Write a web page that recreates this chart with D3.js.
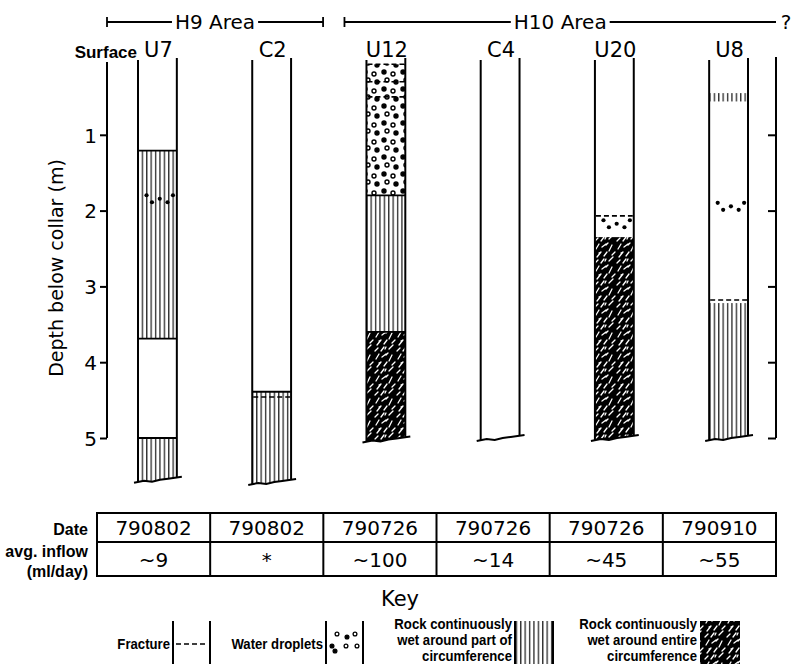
<!DOCTYPE html>
<html>
<head>
<meta charset="utf-8">
<script src="https://cdn.jsdelivr.net/npm/d3@7"></script>
<style>
  html, body { margin: 0; padding: 0; background: #fff; }
  svg { display: block; }
</style>
</head>
<body>
<svg id="chart" width="793" height="664"></svg>
<script>
// ---- data -------------------------------------------------------------
const wells = ["U7", "C2", "U12", "C4", "U20", "U8"];
const wellBase = [5.55, 5.58, 5.02, 5.0, 5.0, 5.0];          // depth where each log is broken off (m)
const sampleDates = ["790802", "790802", "790726", "790726", "790726", "790910"];
const avgInflow = ["~9", "*", "~100", "~14", "~45", "~55"];
const depthTicks = [1, 2, 3, 4, 5];
const areaNames = ["H9 Area", "H10 Area"];

// [well, top depth, bottom depth] ; null bottom = down to base of log
const wetPartZones = [["U7", 1.21, 3.69], ["U7", 5.0, null], ["C2", 4.39, null],
                      ["U12", 1.8, 3.6], ["U8", 0.45, 0.56], ["U8", 3.22, null]];
const wetEntireZones = [["U12", 3.6, null], ["U20", 2.35, null]];
const dropletZones = [["U12", 0.07, 1.8]];
const contacts = [["U7", 1.21], ["U7", 3.69], ["U7", 5.0], ["C2", 4.39], ["U12", 1.8], ["U12", 3.6]];
const fractures = [["U12", 0.07], ["U12", 0.3], ["U12", 0.5], ["C2", 4.46], ["U20", 2.07], ["U8", 3.18]];
const dropletRows = [["U7", 1.85], ["U20", 2.18], ["U8", 1.95]];

const keyLabels = [["Fracture"], ["Water droplets"],
                   ["Rock continuously", "wet around part of", "circumference"],
                   ["Rock continuously", "wet around entire", "circumference"]];

// ---- scales -------------------------------------------------------------
const svg = d3.select("#chart");
const x = d3.scaleBand().domain(wells).range([138, 748]).paddingInner(0.66).paddingOuter(0);
const y = d3.scaleLinear().domain([0, 5]).range([59, 438]);
const tx = d3.scaleBand().domain(wells).range([97, 776]);
const bw = x.bandwidth();
const baseOf = w => wellBase[wells.indexOf(w)];

const mainFont = "DejaVu Sans, sans-serif";
const boldFont = "Liberation Sans, Arial, sans-serif";

// ---- fill patterns ------------------------------------------------------
const defs = svg.append("defs");

const hatch = defs.append("pattern").attr("id", "hatch")
  .attr("patternUnits", "userSpaceOnUse").attr("width", 4.4).attr("height", 20);
hatch.append("rect").attr("width", 4.4).attr("height", 20).attr("fill", "#fff");
hatch.append("line").attr("x1", 1.6).attr("x2", 1.6).attr("y1", 0).attr("y2", 20)
  .attr("stroke", "#000").attr("stroke-width", 1.1);

const dark = defs.append("pattern").attr("id", "dark")
  .attr("patternUnits", "userSpaceOnUse").attr("width", 22).attr("height", 22);
dark.append("rect").attr("width", 22).attr("height", 22).attr("fill", "#000");
dark.append("path")
  .attr("d", "M2 7l3-5 M8 5l4-3 M15 9l3-6 M3 15l4-5 M10 14l3-4 M15 19l4-4 M1 21l3-3 M7 21l3-4 M12 3l2-2 M18 13l3-3 M5 11l2-1 M11 19l1-2")
  .attr("stroke", "#fff").attr("stroke-width", 1.3).attr("stroke-linecap", "round").attr("fill", "none");

const drops = defs.append("pattern").attr("id", "drops")
  .attr("patternUnits", "userSpaceOnUse").attr("width", 19).attr("height", 17);
drops.append("rect").attr("width", 19).attr("height", 17).attr("fill", "#fff");
[[4, 4, 1], [13, 6, 0], [7, 12, 0], [16, 14, 1]].forEach(([cx, cy, f]) => {
  drops.append("circle").attr("cx", cx).attr("cy", cy).attr("r", 2)
    .attr("fill", f ? "#000" : "#fff").attr("stroke", "#000").attr("stroke-width", 1.4);
});

// ---- broken-off base of each log ----------------------------------------
const jag = [[-4, 3], [6, 1], [14, 2], [22, 0], [30, -1], [bw + 5, -3]];
function basePoints(w) {
  const yb = y(baseOf(w)), x0 = x(w);
  return jag.map(([dx, dy]) => [x0 + dx, yb + dy]);
}

// clip region per log
wells.forEach((w, i) => {
  const x0 = x(w), x1 = x0 + bw, yb = y(baseOf(w));
  const pts = [[x0, y(0)], [x1, y(0)], [x1, yb - 2.5]]
    .concat(basePoints(w).slice(1, -1).reverse()).concat([[x0, yb + 2]]);
  defs.append("clipPath").attr("id", "clip" + i)
    .append("polygon").attr("points", pts.map(p => p.join(",")).join(" "));
});
const clipOf = w => "url(#clip" + wells.indexOf(w) + ")";

const logs = svg.append("g");
function zoneRects(list, fill) {
  list.forEach(([w, t, b]) => {
    const bot = b === null ? baseOf(w) + 0.1 : b;
    logs.append("rect").attr("x", x(w)).attr("width", bw)
      .attr("y", y(t)).attr("height", y(bot) - y(t))
      .attr("fill", fill).attr("clip-path", clipOf(w));
  });
}
zoneRects(dropletZones, "url(#drops)");
zoneRects(wetPartZones, "url(#hatch)");
zoneRects(wetEntireZones, "url(#dark)");

// solid contacts
logs.selectAll(".contact").data(contacts).join("line")
  .attr("x1", d => x(d[0])).attr("x2", d => x(d[0]) + bw)
  .attr("y1", d => y(d[1])).attr("y2", d => y(d[1]))
  .attr("stroke", "#000").attr("stroke-width", 1.8);

// fractures
logs.selectAll(".fracture").data(fractures).join("line")
  .attr("x1", d => x(d[0]) + 1).attr("x2", d => x(d[0]) + bw - 1)
  .attr("y1", d => y(d[1])).attr("y2", d => y(d[1]))
  .attr("stroke", "#000").attr("stroke-width", 1.6).attr("stroke-dasharray", "5,3");

// water droplet clusters
const dropShape = [[0.22, -4], [0.36, 3], [0.56, -0.5], [0.76, 3], [0.9, -4]];
dropletRows.forEach(([w, d]) => {
  dropShape.forEach(([fx, dy]) => {
    logs.append("circle").attr("cx", x(w) + fx * bw).attr("cy", y(d) + dy)
      .attr("r", 2.1).attr("fill", "#000");
  });
});

// log walls and broken base
wells.forEach(w => {
  const x0 = x(w), x1 = x0 + bw, yb = y(baseOf(w));
  logs.append("line").attr("x1", x0).attr("x2", x0).attr("y1", y(0) + 1).attr("y2", yb + 2)
    .attr("stroke", "#000").attr("stroke-width", 2);
  logs.append("line").attr("x1", x1).attr("x2", x1).attr("y1", y(0) - 1).attr("y2", yb - 2.5)
    .attr("stroke", "#000").attr("stroke-width", 2);
  logs.append("path").attr("d", d3.line()(basePoints(w)))
    .attr("fill", "none").attr("stroke", "#000").attr("stroke-width", 2);
});

// column headings
svg.append("g").selectAll("text").data(wells).join("text")
  .attr("x", d => x(d) + bw / 2 + 1).attr("y", 57)
  .attr("text-anchor", "middle").attr("font-family", mainFont).attr("font-size", 21)
  .text(d => d);
svg.append("text").attr("x", 137).attr("y", 58).attr("text-anchor", "end")
  .attr("font-family", boldFont).attr("font-weight", "bold").attr("font-size", 17)
  .text("Surface");

// ---- depth axes ---------------------------------------------------------
const axL = svg.append("g").attr("transform", "translate(107,0)")
  .call(d3.axisLeft(y).tickValues(depthTicks).tickFormat(d3.format("d")).tickSize(7).tickSizeOuter(0).tickPadding(3));
axL.select(".domain").attr("stroke-width", 2).attr("d", `M0,${y(0) + 3}V${y(5)}`);
axL.selectAll(".tick line").attr("stroke-width", 2);
axL.selectAll(".tick text").attr("font-family", mainFont).attr("font-size", 20).attr("fill", "#000").attr("dy", "0.36em");

const axR = svg.append("g").attr("transform", "translate(776,0)")
  .call(d3.axisLeft(y).tickValues(depthTicks).tickFormat("").tickSize(8).tickSizeOuter(0));
axR.select(".domain").attr("stroke-width", 2).attr("d", `M0,${y(0) - 2}V${y(5)}`);
axR.selectAll(".tick line").attr("stroke-width", 2);

svg.append("text").attr("transform", `translate(63,${268}) rotate(-90)`)
  .attr("text-anchor", "middle").attr("font-family", mainFont).attr("font-size", 19)
  .text("Depth below collar (m)");

// ---- area brackets ------------------------------------------------------
const bracketSpan = [[107, x("C2") + bw + 32], [x("U12") - 22, 776]];
areaNames.forEach((name, i) => {
  const [a, b] = bracketSpan[i], cx = (a + b) / 2, by = 22;
  const t = svg.append("text").attr("x", cx).attr("y", by + 7).attr("text-anchor", "middle")
    .attr("font-family", mainFont).attr("font-size", 20).text(name);
  const half = t.node().getComputedTextLength() / 2 + 3;
  const g = svg.append("g").attr("stroke", "#000").attr("stroke-width", 1.8);
  g.append("line").attr("x1", a).attr("x2", cx - half).attr("y1", by).attr("y2", by);
  g.append("line").attr("x1", cx + half).attr("x2", b).attr("y1", by).attr("y2", by);
  g.append("line").attr("x1", a).attr("x2", a).attr("y1", by - 5).attr("y2", by + 5);
  if (i === 0) g.append("line").attr("x1", b).attr("x2", b).attr("y1", by - 5).attr("y2", by + 5);
});
svg.append("text").attr("x", 786).attr("y", 29).attr("text-anchor", "middle")
  .attr("font-family", mainFont).attr("font-size", 20).text("?");

// ---- date / inflow table -------------------------------------------------
const tTop = 513, tMid = 542, tBot = 576;
const tbl = svg.append("g");
tbl.append("rect").attr("x", 97).attr("y", tTop).attr("width", 776 - 97).attr("height", tBot - tTop)
  .attr("fill", "none").attr("stroke", "#000").attr("stroke-width", 2);
tbl.append("line").attr("x1", 97).attr("x2", 776).attr("y1", tMid).attr("y2", tMid)
  .attr("stroke", "#000").attr("stroke-width", 2);
tbl.selectAll(".sep").data(wells.slice(1)).join("line")
  .attr("x1", d => tx(d)).attr("x2", d => tx(d)).attr("y1", tTop).attr("y2", tBot)
  .attr("stroke", "#000").attr("stroke-width", 2);
tbl.selectAll(".date").data(sampleDates).join("text")
  .attr("x", (d, i) => tx(wells[i]) + tx.bandwidth() / 2).attr("y", 535)
  .attr("text-anchor", "middle").attr("font-family", mainFont).attr("font-size", 20)
  .text(d => d);
tbl.selectAll(".flow").data(avgInflow).join("text")
  .attr("x", (d, i) => tx(wells[i]) + tx.bandwidth() / 2).attr("y", 567)
  .attr("text-anchor", "middle").attr("font-family", mainFont).attr("font-size", 20)
  .text(d => d);
[["Date", 535], ["avg. inflow", 557], ["(ml/day)", 577]].forEach(([s, yy]) => {
  tbl.append("text").attr("x", 88).attr("y", yy).attr("text-anchor", "end")
    .attr("font-family", boldFont).attr("font-weight", "bold").attr("font-size", 16).text(s);
});

// ---- key ------------------------------------------------------------------
svg.append("text").attr("x", 400).attr("y", 606).attr("text-anchor", "middle")
  .attr("font-family", mainFont).attr("font-size", 21).text("Key");

const swatch = [[173, 210], [326, 363], [515, 553], [700, 740]];
const key = svg.append("g");
keyLabels.forEach((lines, i) => {
  const [a, b] = swatch[i];
  const base = lines.length === 1 ? [649] : [628.5, 644.5, 660.5];
  lines.forEach((s, j) => {
    key.append("text").attr("transform", `translate(${a - 3},${base[j]}) scale(0.94,1)`)
      .attr("text-anchor", "end").attr("font-family", boldFont).attr("font-weight", "bold")
      .attr("font-size", 14).text(s);
  });
  if (i === 2) key.append("rect").attr("x", a).attr("y", 621).attr("width", b - a).attr("height", 43).attr("fill", "url(#hatch)");
  if (i === 3) key.append("rect").attr("x", a).attr("y", 621).attr("width", b - a).attr("height", 43).attr("fill", "url(#dark)");
  if (i < 3) {
    [a, b].forEach(xx => key.append("line").attr("x1", xx).attr("x2", xx).attr("y1", 621).attr("y2", 664)
      .attr("stroke", "#000").attr("stroke-width", 2));
  }
});
key.append("line").attr("x1", 176).attr("x2", 208).attr("y1", 644).attr("y2", 644)
  .attr("stroke", "#000").attr("stroke-width", 1.6).attr("stroke-dasharray", "5,3");
[[337, 634, 0], [332, 646, 1], [347, 637, 1], [346, 646, 0], [355, 634, 0], [357, 646, 0], [335, 651, 1]].forEach(([cx, cy, f]) => {
  key.append("circle").attr("cx", cx).attr("cy", cy).attr("r", 1.9)
    .attr("fill", f ? "#000" : "#fff").attr("stroke", "#000").attr("stroke-width", 1.3);
});
</script>
</body>
</html>
